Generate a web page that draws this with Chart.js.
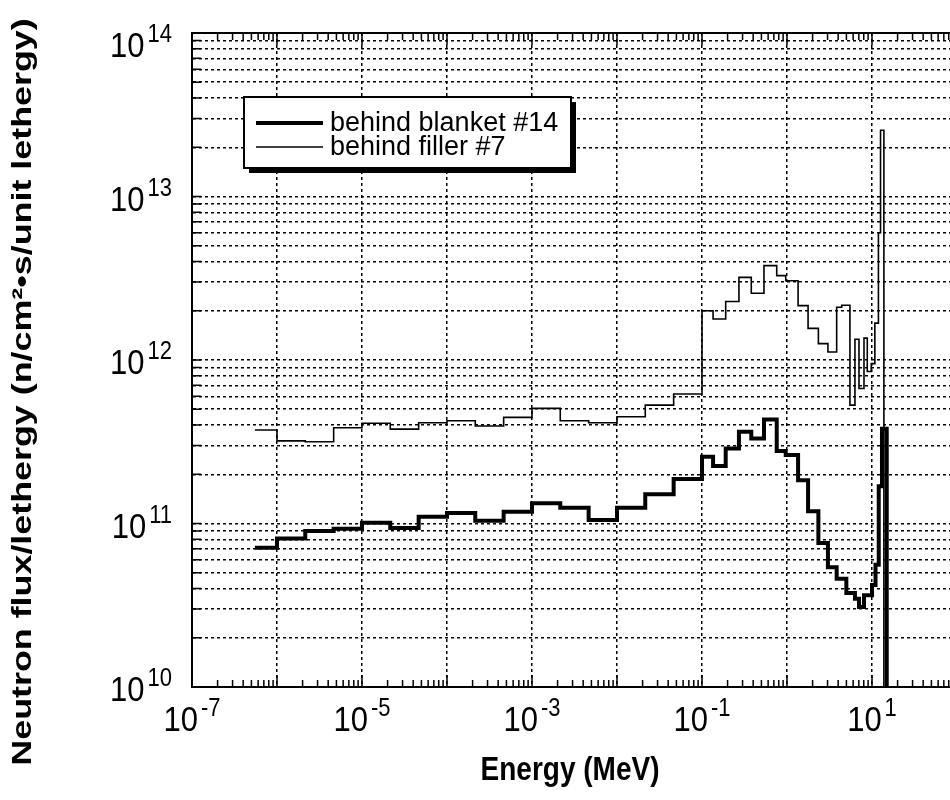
<!DOCTYPE html>
<html>
<head>
<meta charset="utf-8">
<script src="https://cdn.jsdelivr.net/npm/chart.js@4.4.1/dist/chart.umd.min.js"></script>
<style>
  html, body { margin: 0; padding: 0; background: #fff; overflow: hidden; }
  #wrap { width: 1000px; height: 800px; }
</style>
</head>
<body>
<div id="wrap"><canvas id="flux" width="1000" height="800"></canvas></div>
<script>
// bin edges in MeV (last entry closes the last bin), flux per unit lethargy per bin
const blanketEdges = [5.5e-7, 1e-6, 2.15e-6, 4.64e-6, 1e-5, 2.15e-5, 4.64e-5, 1e-4, 2.15e-4, 4.64e-4,
  1e-3, 2.15e-3, 4.64e-3, 1e-2, 2.15e-2, 4.64e-2, 0.1, 0.135, 0.19, 0.272, 0.38, 0.536, 0.757, 0.966,
  1.35, 1.77, 2.34, 3.03, 3.84, 4.99, 6.3, 7.03, 8.05, 10.0, 11.0, 12.0, 13.1, 14.9];
const blanketFlux = [7.1e10, 8.1e10, 9.0e10, 9.3e10, 1.01e11, 9.4e10, 1.1e11, 1.16e11, 1.04e11, 1.18e11,
  1.33e11, 1.25e11, 1.05e11, 1.25e11, 1.51e11, 1.87e11, 2.56e11, 2.25e11, 2.88e11, 3.64e11, 3.31e11, 4.33e11,
  2.78e11, 2.62e11, 1.84e11, 1.19e11, 7.6e10, 5.4e10, 4.6e10, 3.76e10, 3.47e10, 3.09e10, 3.64e10, 4.2e10,
  5.6e10, 1.69e11, 3.8e11];

const fillerEdges = [5.5e-7, 1e-6, 2.15e-6, 4.64e-6, 1e-5, 2.15e-5, 4.64e-5, 1e-4, 2.15e-4, 4.64e-4,
  1e-3, 2.15e-3, 4.64e-3, 1e-2, 2.15e-2, 4.64e-2, 0.1, 0.135, 0.19, 0.272, 0.38, 0.536, 0.757, 0.966,
  1.35, 1.77, 2.34, 3.03, 3.84, 4.4, 5.5, 6.3, 7.03, 8.05, 8.8, 9.8, 10.8, 11.9, 12.6, 13.8];
const fillerFlux = [3.73e11, 3.2e11, 3.16e11, 3.85e11, 4.1e11, 3.78e11, 4.13e11, 4.25e11, 3.95e11, 4.46e11,
  5.06e11, 4.25e11, 4.13e11, 4.5e11, 5.3e11, 6.2e11, 2.0e12, 1.78e12, 2.28e12, 3.2e12, 2.56e12, 3.78e12,
  3.28e12, 3.05e12, 2.15e12, 1.56e12, 1.26e12, 1.12e12, 2.1e12, 2.16e12, 5.3e11, 1.34e12, 6.7e11, 1.36e12,
  8.5e11, 9.5e11, 1.68e12, 6e12, 2.54e13];

const xLabelExps = [-7, -5, -3, -1, 1];
const yLabelExps = [10, 11, 12, 13, 14];

const FONT = "'Liberation Sans', Arial, Helvetica, sans-serif";

// histogram -> step points, last bin closed and dropped below the axis
const toSteps = (edges, vals) => {
  const pts = vals.map((v, i) => ({ x: edges[i], y: v }));
  const end = edges[edges.length - 1];
  pts.push({ x: end, y: vals[vals.length - 1] });
  pts.push({ x: end, y: 1e8 });
  return pts;
};

const decades = (lo, hi, minors) => {
  const out = [];
  for (let e = lo; e <= hi; e++) {
    out.push({ value: Math.pow(10, e) });
    if (minors && e < hi) for (let k = 2; k <= 9; k++) out.push({ value: k * Math.pow(10, e) });
  }
  return out;
};

// "10" with a raised exponent (scan is a bit taller than wide, so stretch a little)
const drawPow = (ctx, exp, x, y, align) => {
  const base = '10', sup = String(exp), gap = 3;
  ctx.font = `31px ${FONT}`;
  const wb = ctx.measureText(base).width;
  ctx.font = `22px ${FONT}`;
  const ws = ctx.measureText(sup).width;
  const x0 = align === 'right' ? x - wb - ws - gap : x - (wb + ws + gap) / 2;
  ctx.save();
  ctx.translate(x0, y);
  ctx.scale(1, 1.15);
  ctx.textAlign = 'left';
  ctx.textBaseline = 'alphabetic';
  ctx.font = `31px ${FONT}`;
  ctx.fillText(base, 0, 0);
  ctx.font = `22px ${FONT}`;
  ctx.fillText(sup, wb + gap, -13);
  ctx.restore();
};

const framePlugin = {
  id: 'frame',
  afterDraw(chart) {
    const { ctx, chartArea: a } = chart;
    const x = chart.scales.x, y = chart.scales.y;
    ctx.save();
    ctx.strokeStyle = '#000';
    ctx.fillStyle = '#000';

    // top border
    ctx.lineWidth = 2;
    ctx.beginPath(); ctx.moveTo(a.left, a.top); ctx.lineTo(a.right, a.top); ctx.stroke();

    // inner tick marks
    ctx.lineWidth = 1.5;
    ctx.beginPath();
    for (let e = -7; e < 2; e++) {
      for (let k = 1; k <= 9; k++) {
        const px = x.getPixelForValue(k * Math.pow(10, e));
        const len = k === 1 ? 12 : 7;
        ctx.moveTo(px, a.bottom); ctx.lineTo(px, a.bottom - len);
        ctx.moveTo(px, a.top); ctx.lineTo(px, a.top + len);
      }
    }
    y.ticks.forEach(t => {
      const py = y.getPixelForValue(t.value);
      ctx.moveTo(a.left, py); ctx.lineTo(a.left + 9, py);
    });
    ctx.stroke();

    // tick labels
    xLabelExps.forEach(e => drawPow(ctx, e, x.getPixelForValue(Math.pow(10, e)), 731, 'center'));
    yLabelExps.forEach(e => {
      const py = y.getPixelForValue(Math.pow(10, e));
      drawPow(ctx, e, 172, py + (e === 14 ? 24 : 14), 'right');
    });

    // axis titles
    ctx.font = `bold 28px ${FONT}`;
    ctx.textAlign = 'center';
    ctx.textBaseline = 'middle';
    ctx.save();
    ctx.translate(570, 771);
    ctx.scale(1, 1.2);
    ctx.fillText('Energy (MeV)', 0, 0);
    ctx.restore();
    ctx.save();
    ctx.translate(23, 392);
    ctx.rotate(-Math.PI / 2);
    ctx.scale(1.28, 1);
    ctx.fillText('Neutron flux/lethergy (n/cm\u00b2\u2022s/unit lethergy)', 0, 0);
    ctx.restore();

    // legend box with drop shadow
    const bx = 244, by = 97, bw = 327, bh = 71;
    ctx.fillRect(bx + 5, by + 5, bw, bh);
    ctx.fillStyle = '#fff';
    ctx.fillRect(bx, by, bw, bh);
    ctx.lineWidth = 2;
    ctx.strokeRect(bx, by, bw, bh);
    ctx.fillStyle = '#000';
    ctx.font = `27px ${FONT}`;
    ctx.textAlign = 'left';
    ctx.textBaseline = 'middle';
    chart.data.datasets.forEach((ds, i) => {
      const ly = 123 + i * 24;
      ctx.lineWidth = ds.borderWidth;
      ctx.beginPath(); ctx.moveTo(256, ly); ctx.lineTo(323, ly); ctx.stroke();
      ctx.fillText(ds.label, 330, ly + 1);
    });
    ctx.restore();
  }
};

new Chart(document.getElementById('flux'), {
  type: 'line',
  data: {
    datasets: [
      { label: 'behind blanket #14', data: toSteps(blanketEdges, blanketFlux), stepped: 'before',
        borderColor: '#000', borderWidth: 4, pointRadius: 0, fill: false },
      { label: 'behind filler #7', data: toSteps(fillerEdges, fillerFlux), stepped: 'before',
        borderColor: '#000', borderWidth: 1.6, pointRadius: 0, fill: false }
    ]
  },
  options: {
    responsive: false,
    animation: false,
    devicePixelRatio: 1,
    layout: { padding: { left: 0, right: 43, top: 33, bottom: 0 } },
    plugins: { legend: { display: false }, tooltip: { enabled: false } },
    scales: {
      x: {
        type: 'logarithmic', min: 1e-7, max: 1e2,
        afterBuildTicks: s => { s.ticks = decades(-7, 2, false); },
        afterFit: s => { s.height = 113; },
        ticks: { display: false },
        grid: { color: '#000', lineWidth: 1.5, drawTicks: false },
        border: { display: true, color: '#000', width: 2, dash: [3, 3] }
      },
      y: {
        type: 'logarithmic', min: 1e10, max: 1e14,
        afterBuildTicks: s => { s.ticks = decades(10, 14, true); },
        afterFit: s => { s.width = 192; },
        ticks: { display: false },
        grid: { color: '#000', lineWidth: 1.5, drawTicks: false },
        border: { display: true, color: '#000', width: 2, dash: [3, 3] }
      }
    }
  },
  plugins: [framePlugin]
});
</script>
</body>
</html>
